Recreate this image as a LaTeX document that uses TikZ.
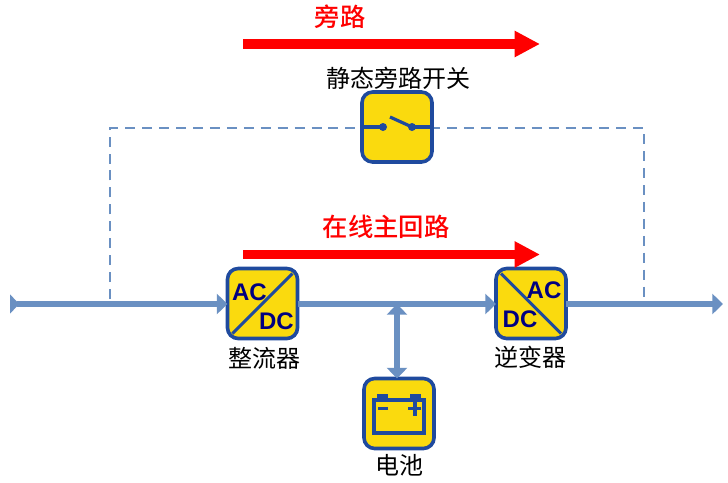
\documentclass[tikz,border=0pt]{standalone}
\usepackage{fontspec}
\setmainfont{Liberation Sans}
\newfontfamily\cjk{Noto Sans CJK SC}
\newfontfamily\cjkmed{Noto Sans CJK SC Medium}
\usetikzlibrary{arrows.meta,calc}
\definecolor{boxfill}{HTML}{FADA0E}
\definecolor{boxedge}{HTML}{1F4A9E}
\definecolor{busline}{HTML}{6A90C2}
\definecolor{dashline}{HTML}{6A90C2}
\definecolor{acdc}{HTML}{000080}
\tikzset{
  unitbox/.style={draw=boxedge,fill=boxfill,line width=2.7pt,rounded corners=8pt,minimum size=52.5pt,inner sep=0pt,outer sep=0pt},
  bus/.style={draw=busline,line width=4pt},
  bustip/.style={-{Triangle[length=8pt,width=15pt]}},
  redarrow/.style={draw=red,line width=6.8pt,-{Triangle[length=19pt,width=18.5pt]}},
  dashedlink/.style={draw=dashline,line width=0.9pt,dash pattern=on 7.5pt off 5.2pt},
  diag/.style={draw=boxedge,line width=2.2pt},
  symb/.style={draw=boxedge,line width=3.2pt},
  cjklabel/.style={font=\cjk\fontsize{18}{20}\selectfont,text=black,inner sep=0pt},
  redlabel/.style={font=\cjkmed\fontsize{19}{20}\selectfont,text=red,inner sep=0pt},
  powerlabel/.style={font=\bfseries\fontsize{18}{18}\selectfont,text=acdc,inner sep=0pt}
}
\begin{document}
\begin{tikzpicture}[x=0.75pt,y=-0.75pt]
\useasboundingbox (0,0) rectangle (728,482);
% anchors
\coordinate (inL) at (10,304);
\coordinate (outR) at (723,304);
\coordinate (dashLb) at (110,299);
\coordinate (dashLt) at (110,128);
\coordinate (dashRt) at (644,128);
\coordinate (dashRb) at (644,299);
\coordinate (bypassA) at (243,44);
\coordinate (bypassB) at (540,44);
\coordinate (mainA) at (243,254.5);
\coordinate (mainB) at (540,254.5);
\coordinate (busTap) at (397,304);
% dashed bypass path
\draw[dashedlink] (dashLb) -- (dashLt) -- (dashRt) -- (dashRb);
% boxes
\node[unitbox] (sw) at (397,127) {};
\node[unitbox] (rect) at (262.5,303.5) {};
\node[unitbox] (inv) at (531,303.5) {};
\node[unitbox] (bat) at (399,413.5) {};
% bus
\draw[bus,{Triangle[reversed,length=7pt,width=14pt]}-{Triangle[length=8pt,width=15pt]}] (inL) -- (rect.west |- inL);
\draw[bus] (rect.east |- busTap) -- (busTap);
\draw[bus,bustip] (busTap) -- (inv.west |- busTap);
\draw[bus,bustip] (inv.east |- outR) -- (outR);
\draw[bus,{Triangle[length=8pt,width=15pt]}-{Triangle[length=8pt,width=15pt]}] (busTap) -- (busTap |- bat.north);
% red arrows
\draw[redarrow] (bypassA) -- (bypassB);
\draw[redarrow] (mainA) -- (mainB);
% rectifier
\draw[diag] ($(rect.south west)+(5,-5)$) -- ($(rect.north east)+(-5,5)$);
\node[powerlabel] (rectAC) at (249.5,292) {AC};
\node[powerlabel] (rectDC) at (276.5,321) {DC};
% inverter
\draw[diag] ($(inv.north west)+(5,5)$) -- ($(inv.south east)+(-5,-5)$);
\node[powerlabel] (invAC) at (544,290) {AC};
\node[powerlabel] (invDC) at (520,319) {DC};
% switch symbol
\draw[symb] (364,127) -- (383,127);
\fill[boxedge] (383,127) circle (3pt);
\draw[boxedge,line width=2.4pt] (390,117) -- (412,127);
\fill[boxedge] (412,127) circle (3pt);
\draw[symb] (412,127) -- (430,127);
% battery symbol
\draw[draw=boxedge,line width=3pt] (374,400) rectangle (424,433);
\fill[boxedge] (377,394) rectangle (388,399);
\fill[boxedge] (410,394) rectangle (421,399);
\draw[boxedge,line width=2.5pt] (378,408.5) -- (388,408.5);
\draw[boxedge,line width=2.5pt] (408,408.5) -- (421,408.5);
\draw[boxedge,line width=3.2pt] (415,402) -- (415,415.5);
% labels
\node[cjklabel] (swlabel) at (398.5,78) {静态旁路开关};
\node[cjklabel] (rectlabel) at (264,358) {整流器};
\node[cjklabel] (invlabel) at (530,357) {逆变器};
\node[cjklabel] (batlabel) at (399,465) {电池};
\node[redlabel] (bypasslabel) at (340,17) {旁路};
\node[redlabel] (mainlabel) at (386,227) {在线主回路};
\end{tikzpicture}
\end{document}
